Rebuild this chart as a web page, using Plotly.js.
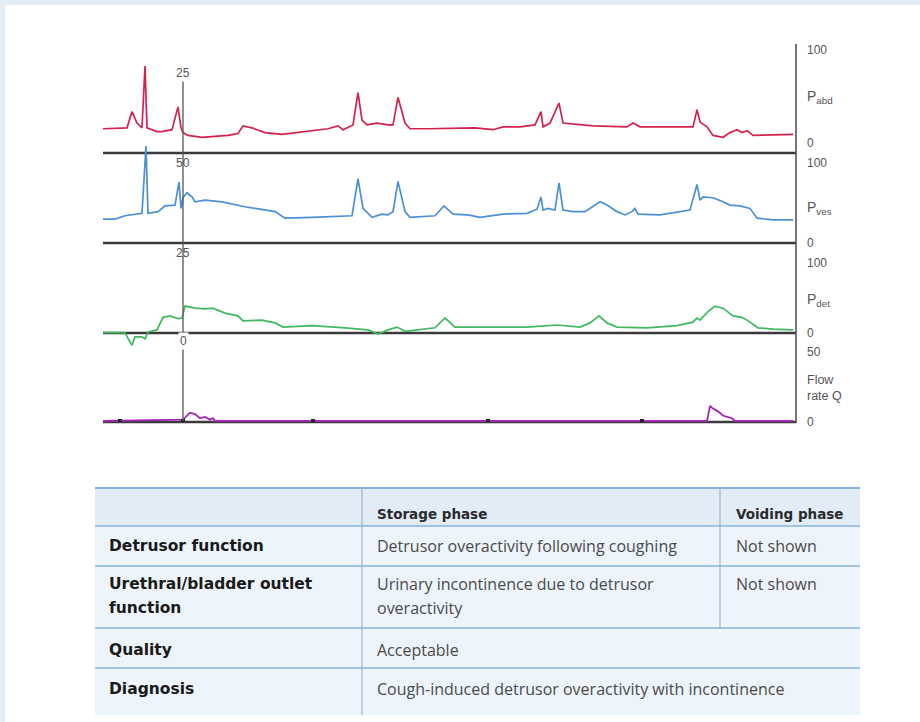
<!DOCTYPE html>
<html>
<head>
<meta charset="utf-8">
<script src="https://cdn.plot.ly/plotly-3.0.1.min.js"></script>
<style>
  html, body { margin: 0; padding: 0; background: #ffffff; }
  #chart { width: 920px; height: 722px; }
</style>
</head>
<body>
<div id="chart"></div>
<script>
// ---------- DATA (time in arbitrary units, pressures in cmH2O, flow in ml/s) ----------
const t_abd = [0,24,29,34,39,42,44,49,54,59,69,75,78,80,85,99,125,135,140,149,162,179,204,225,235,240,250,255,259,264,274,285,290,295,302,307,325,372,390,400,417,432,438,440,447,456,460,490,524,530,537,590,594,597,604,610,620,627,634,639,644,650,690];
const p_abd = [15,16,33,21,16,81,16,14,12,12,14,38,16,11,8,6,8,10,18,16,11,9,12,15,18,14,19,53,24,19,21,19,19,48,21,15,15,16,14,17,17,19,33,17,21,42,21,18,17,21,17,17,35,22,17,8,6,11,14,11,13,8,9];

const t_ves = [0,12,22,32,39,43,45,55,62,72,76,78,80,84,89,92,102,119,142,172,182,209,249,255,260,269,279,285,290,295,302,307,332,341,350,365,377,400,424,434,438,440,445,452,456,460,470,482,489,497,504,514,522,529,532,535,557,587,594,597,600,610,620,627,637,647,654,670,690];
const p_ves = [28,28,32,34,35,117,35,37,44,45,73,41,54,60,55,49,51,49,43,37,29,30,32,77,41,30,34,33,37,74,37,30,32,44,34,33,30,34,35,40,55,39,41,39,72,39,37,37,43,49,45,37,33,37,41,34,33,39,70,51,55,54,49,45,44,41,29,27,27];

const t_det = [0,22,25,29,32,39,42,45,54,60,67,75,79,82,92,102,110,122,135,140,159,172,180,209,242,265,275,285,294,302,332,342,352,372,390,424,454,477,487,496,504,514,544,574,590,594,597,605,612,620,630,639,644,655,670,690];
const p_det = [-1,-1,-9,-19,-7,-7,-10,0,3,21,23,19,20,37,34,33,34,27,23,16,17,13,7,9,6,3,-3,3,7,1,6,20,7,7,7,7,10,7,13,23,13,7,6,9,14,20,17,29,37,34,23,21,17,6,4,3];

const t_flow = [0,80,87,92,97,102,107,110,112,604,607,610,615,620,624,629,632,690];
const q_flow = [0,1,6,5,2,3,1,2,0,0,11,9,7,4,3,2,0,0];

const t_events = [17,80,210,385,539];
const q_events = [0,0,0,0,0];

const markerTime = 80;
const markerLabels = ["25","50","25","0"];

const channelScaleTop = ["100","100","100","50"];
const channelScaleBottom = ["0","0","0","0"];
const channelNames = ["P<sub>abd</sub>","P<sub>ves</sub>","P<sub>det</sub>","Flow<br>rate Q"];
const channelFull = [100,100,100,50];

const tableHeader = ["", "Storage phase", "Voiding phase"];
const rowLabels = ["Detrusor function", "Urethral/bladder outlet<br>function", "Quality", "Diagnosis"];
const storageCol = ["Detrusor overactivity following coughing", "Urinary incontinence due to detrusor<br>overactivity", "Acceptable", "Cough-induced detrusor overactivity with incontinence"];
const voidingCol = ["Not shown", "Not shown", null, null];

// ---------- LAYOUT GEOMETRY ----------
const W = 920, H = 722;
const PLOT = {l:103, r:796, t:45, b:422};
const X_RANGE = [0, 693];
function pxX(x){ return (x-PLOT.l)/(PLOT.r-PLOT.l); }
function pxY(y){ return (PLOT.b-y)/(PLOT.b-PLOT.t); }
const panelZero = [143, 242, 332, 421];
const panelFullPx = [48, 160, 262, 352];
function axRange(i){
  const s = (panelZero[i]-panelFullPx[i])/channelFull[i];
  return [(panelZero[i]-PLOT.b)/s, (panelZero[i]-PLOT.t)/s];
}
const sepLines = [153, 243, 333, 422];

const colors = ["#d3214e", "#4b8fd6", "#3fb860", "#a424b8"];

const traces = [
  {x:t_abd, y:p_abd, yaxis:"y", type:"scatter", mode:"lines", line:{color:colors[0], width:1.7}, hoverinfo:"skip"},
  {x:t_ves, y:p_ves, yaxis:"y2", type:"scatter", mode:"lines", line:{color:colors[1], width:1.7}, hoverinfo:"skip"},
  {x:t_det, y:p_det, yaxis:"y3", type:"scatter", mode:"lines", line:{color:colors[2], width:1.7}, hoverinfo:"skip"},
  {x:t_flow, y:q_flow, yaxis:"y4", type:"scatter", mode:"lines", line:{color:colors[3], width:1.8}, hoverinfo:"skip"},
  {x:t_events, y:q_events, yaxis:"y4", type:"scatter", mode:"markers", marker:{color:"#222", size:4, symbol:"square"}, hoverinfo:"skip"}
];

const shapes = [];
shapes.push({type:"rect", xref:"paper", yref:"paper", x0:pxX(0), x1:pxX(W), y0:pxY(0), y1:pxY(5), fillcolor:"#e4edf6", line:{width:0}, layer:"below"});
shapes.push({type:"rect", xref:"paper", yref:"paper", x0:pxX(0), x1:pxX(5), y0:pxY(0), y1:pxY(H), fillcolor:"#e4edf6", line:{width:0}, layer:"below"});
sepLines.forEach(function(y){
  shapes.push({type:"line", xref:"paper", yref:"paper", x0:0, x1:1, y0:pxY(y), y1:pxY(y), line:{color:"#3a3a3a", width:2.4}, layer:"below"});
});
shapes.push({type:"line", xref:"paper", yref:"paper", x0:1, x1:1, y0:pxY(44), y1:pxY(423), line:{color:"#555", width:1.6}});
shapes.push({type:"line", xref:"x", yref:"paper", x0:markerTime, x1:markerTime, y0:pxY(81), y1:pxY(421), line:{color:"#555", width:1.3}});

const TB = {l:95, r:860, top:488, bottom:715, c1:362, c2:720};
const rowLines = [488, 526, 566, 628, 668];
shapes.push({type:"rect", xref:"paper", yref:"paper", x0:pxX(TB.l), x1:pxX(TB.r), y0:pxY(TB.bottom), y1:pxY(TB.top), fillcolor:"#edf4fb", line:{width:0}, layer:"below"});
shapes.push({type:"rect", xref:"paper", yref:"paper", x0:pxX(TB.l), x1:pxX(TB.r), y0:pxY(rowLines[1]), y1:pxY(TB.top), fillcolor:"#e1ecf7", line:{width:0}, layer:"below"});
rowLines.forEach(function(y, i){
  shapes.push({type:"line", xref:"paper", yref:"paper", x0:pxX(TB.l), x1:pxX(TB.r), y0:pxY(y), y1:pxY(y), line:{color:"#86b3dc", width: i===0 ? 2 : 1.6}});
});
shapes.push({type:"line", xref:"paper", yref:"paper", x0:pxX(TB.c1), x1:pxX(TB.c1), y0:pxY(TB.top), y1:pxY(TB.bottom), line:{color:"#8fa9c6", width:1}});
shapes.push({type:"line", xref:"paper", yref:"paper", x0:pxX(TB.c2), x1:pxX(TB.c2), y0:pxY(TB.top), y1:pxY(rowLines[3]), line:{color:"#8fa9c6", width:1}});

const annotations = [];
const lblFont = {family:"Liberation Sans, Arial, sans-serif", size:12, color:"#555"};
const namePos = [97, 208, 300, 388];
const topPos = [50, 163, 263, 352];
const botPos = [143, 243, 333, 422];
for (let i=0;i<4;i++){
  annotations.push({xref:"paper", yref:"paper", x:pxX(805), y:pxY(topPos[i]), text:channelScaleTop[i], showarrow:false, xanchor:"left", yanchor:"middle", font:lblFont});
  annotations.push({xref:"paper", yref:"paper", x:pxX(805), y:pxY(botPos[i]), text:channelScaleBottom[i], showarrow:false, xanchor:"left", yanchor:"middle", font:lblFont});
  annotations.push({xref:"paper", yref:"paper", x:pxX(805), y:pxY(namePos[i]), text:channelNames[i], showarrow:false, xanchor:"left", yanchor:"middle", align:"left", font:{family:lblFont.family, size:i===3?12.5:14, color:"#555"}});
}
const mkPos = [73, 163, 253, 341];
markerLabels.forEach(function(txt, i){
  annotations.push({xref:"x", yref:"paper", x:markerTime, y:pxY(mkPos[i]), text:txt, showarrow:false, xanchor:"center", yanchor:"middle", font:lblFont, bgcolor: (i===0||i===3) ? "#ffffff" : "rgba(0,0,0,0)"});
});

const boldFont = {family:"DejaVu Sans, sans-serif", size:15.5, color:"#1a1a1a", weight:700};
const hdrFont = {family:"DejaVu Sans, sans-serif", size:13.5, color:"#2a2a2a", weight:700};
const regFont = {family:"Open Sans, sans-serif", size:16, color:"#4a4a4a"};
annotations.push({xref:"paper", yref:"paper", x:pxX(375), y:pxY(514), text:tableHeader[1], showarrow:false, xanchor:"left", yanchor:"middle", font:hdrFont});
annotations.push({xref:"paper", yref:"paper", x:pxX(734), y:pxY(514), text:tableHeader[2], showarrow:false, xanchor:"left", yanchor:"middle", font:hdrFont});
const rowFirstY = [546, 584, 650, 689];
const lineGap = 24;
function addLines(txt, x, y0, font){
  txt.split("<br>").forEach(function(line, k){
    annotations.push({xref:"paper", yref:"paper", x:pxX(x), y:pxY(y0 + k*lineGap), text:line, showarrow:false, xanchor:"left", yanchor:"middle", font:font});
  });
}
for (let r=0;r<rowLabels.length;r++){
  addLines(rowLabels[r], 107, rowFirstY[r], boldFont);
  addLines(storageCol[r], 375, rowFirstY[r], regFont);
  if (voidingCol[r]) addLines(voidingCol[r], 734, rowFirstY[r], regFont);
}

const hiddenY = {visible:false, fixedrange:true, showgrid:false, zeroline:false};
const layout = {
  width:W, height:H,
  margin:{l:PLOT.l, r:W-PLOT.r, t:PLOT.t, b:H-PLOT.b, pad:0},
  paper_bgcolor:"#ffffff",
  plot_bgcolor:"rgba(0,0,0,0)",
  showlegend:false,
  xaxis:{range:X_RANGE, visible:false, showgrid:false, zeroline:false, fixedrange:true},
  yaxis:Object.assign({range:axRange(0)}, hiddenY),
  yaxis2:Object.assign({range:axRange(1), overlaying:"y"}, hiddenY),
  yaxis3:Object.assign({range:axRange(2), overlaying:"y"}, hiddenY),
  yaxis4:Object.assign({range:axRange(3), overlaying:"y"}, hiddenY),
  shapes:shapes,
  annotations:annotations
};

Plotly.newPlot("chart", traces, layout, {displayModeBar:false, staticPlot:true});
</script>
</body>
</html>
